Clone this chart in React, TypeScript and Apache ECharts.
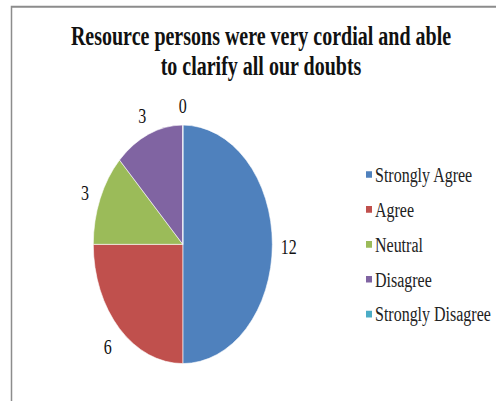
import React, { useEffect, useRef } from "react";
import * as echarts from "echarts";

const categories = ["Strongly Agree", "Agree", "Neutral", "Disagree", "Strongly Disagree"];
const values = [12, 6, 3, 3, 0];
const colors = ["#4F81BD", "#C0504D", "#9BBB59", "#8064A2", "#4BACC6"];
const titleText = "Resource persons were very cordial and able\nto clarify all our doubts";

const W = 496;
const H = 301;
const S = 401 / 301;

export default function App() {
  const ref = useRef<HTMLDivElement>(null);
  useEffect(() => {
    if (!ref.current) return;
    const chart = echarts.init(ref.current, null, { renderer: "svg", width: W, height: H });
    const data = categories.map((name, i) => ({ name, value: values[i] }));
    const font = "'Liberation Serif', 'Times New Roman', serif";
    chart.setOption({
      animation: false,
      backgroundColor: "#ffffff",
      color: colors,
      title: {
        text: titleText,
        left: 261,
        top: 16,
        textAlign: "center",
        padding: 0,
        textStyle: {
          fontFamily: font,
          fontSize: 20,
          fontWeight: "bold",
          lineHeight: 22.5,
          color: "#111",
        },
      },
      legend: {
        orient: "vertical",
        left: 364,
        top: 123,
        itemWidth: 8,
        itemHeight: 7,
        itemGap: 10.2,
        icon: "rect",
        padding: 0,
        data: categories,
        textStyle: {
          fontFamily: font,
          fontSize: 16,
          lineHeight: 16,
          color: "#222",
          padding: [0, 0, 0, -3],
        },
      },
      graphic: [
        {
          type: "rect",
          shape: { x: 11.5, y: 5, width: 560, height: 360 },
          style: { fill: "none", stroke: "#8c8c8c", lineWidth: 1.5 },
          z: -10,
          silent: true,
        },
      ],
      series: [
        {
          type: "pie",
          center: [182.8, 183.4],
          radius: [0, 89.5],
          startAngle: 90,
          clockwise: true,
          label: { show: false },
          labelLine: { show: false },
          itemStyle: { borderColor: "#ffffff", borderWidth: 0.5 },
          emphasis: { disabled: true },
          data,
        },
        {
          type: "pie",
          center: [182.8, 185],
          radius: [96, 110],
          startAngle: 90,
          clockwise: true,
          silent: true,
          itemStyle: { color: "rgba(0,0,0,0)" },
          label: {
            show: true,
            position: "inside",
            formatter: "{c}",
            fontFamily: font,
            fontSize: 16,
            color: "#111",
          },
          labelLine: { show: false },
          emphasis: { disabled: true },
          data,
        },
      ],
    });
    return () => chart.dispose();
  }, []);
  return (
    <div
      style={{
        position: "fixed",
        left: 0,
        top: 0,
        width: W,
        height: 401,
        overflow: "hidden",
        background: "#fff",
      }}
    >
      <div
        ref={ref}
        style={{
          width: W,
          height: H,
          transform: `scaleY(${S})`,
          transformOrigin: "0 0",
        }}
      />
    </div>
  );
}
